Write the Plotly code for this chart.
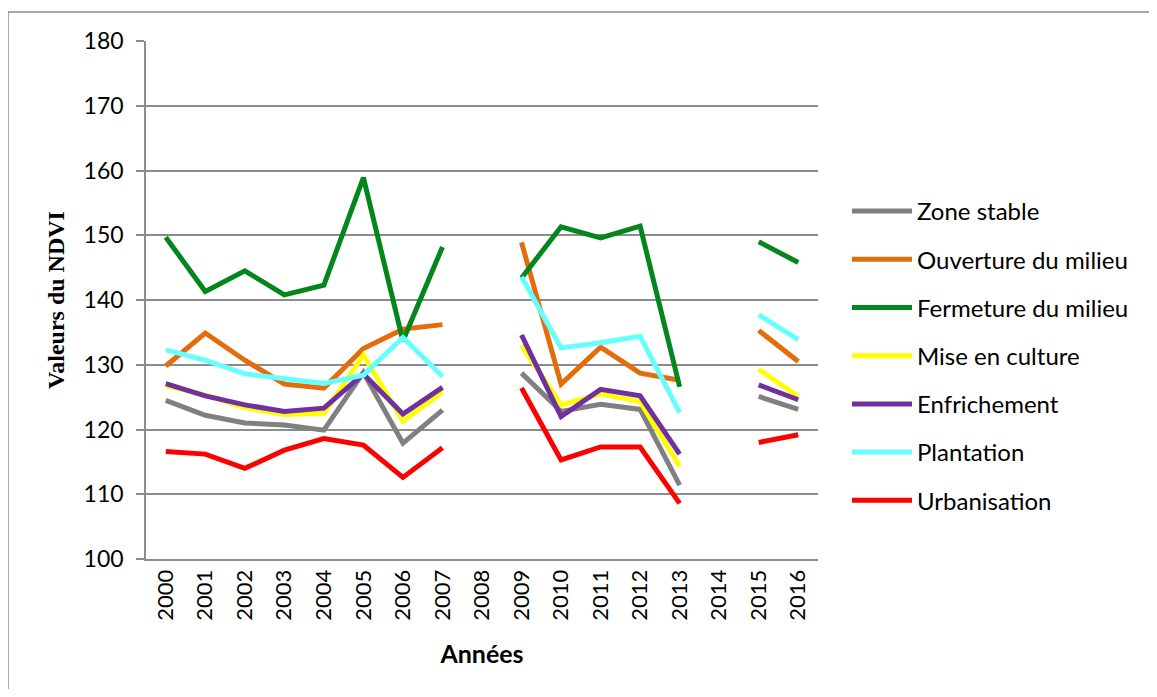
import plotly.graph_objects as go

years = ["2000", "2001", "2002", "2003", "2004", "2005", "2006", "2007", "2008",
         "2009", "2010", "2011", "2012", "2013", "2014", "2015", "2016"]

zone_stable = [124.5, 122.2, 121.0, 120.7, 119.9, 128.8, 117.9, 123.0, None,
               128.7, 122.8, 123.9, 123.1, 111.4, None, 125.1, 123.1]
ouverture = [129.8, 134.9, 130.7, 127.0, 126.4, 132.5, 135.5, 136.2, None,
             148.9, 127.0, 132.7, 128.7, 127.6, None, 135.3, 130.5]
fermeture = [149.7, 141.3, 144.5, 140.8, 142.3, 158.9, 133.7, 148.2, None,
             143.4, 151.3, 149.6, 151.4, 126.6, None, 149.0, 145.8]
mise_culture = [126.8, 125.3, 123.4, 122.3, 122.5, 131.5, 121.3, 125.8, None,
                133.0, 123.8, 125.5, 124.3, 114.3, None, 129.3, 125.1]
enfrichement = [127.1, 125.2, 123.8, 122.8, 123.3, 128.6, 122.4, 126.5, None,
                134.6, 122.0, 126.2, 125.2, 116.2, None, 126.9, 124.6]
plantation = [132.3, 130.7, 128.6, 127.8, 127.1, 128.4, 134.2, 128.2, None,
              143.6, 132.6, 133.4, 134.4, 122.6, None, 137.7, 133.9]
urbanisation = [116.6, 116.2, 114.0, 116.8, 118.6, 117.6, 112.6, 117.2, None,
                126.4, 115.3, 117.3, 117.3, 108.6, None, 118.0, 119.2]

series = [
    ("Zone stable", zone_stable, "#808080"),
    ("Ouverture du milieu", ouverture, "#E46C0A"),
    ("Fermeture du milieu", fermeture, "#03861B"),
    ("Mise en culture", mise_culture, "#FFFF00"),
    ("Enfrichement", enfrichement, "#7030A0"),
    ("Plantation", plantation, "#66FFFF"),
    ("Urbanisation", urbanisation, "#FF0000"),
]

fig = go.Figure()
for name, vals, col in series:
    fig.add_trace(go.Scatter(x=years, y=vals, name=name, mode="lines",
                             legendgroup=name,
                             line=dict(color=col, width=5),
                             connectgaps=False))

# page body has an 8px margin; figure is placed at (8, 8)
OFF = 8
W, H = 1157 - 2 * OFF, 697 - 2 * OFF
L, R, T, B = 146, 818, 41, 559   # plot area in screen pixels
pw, ph = R - L, B - T

def px(x):
    return (x - L) / pw

def py(y):
    return (B - y) / ph

grid = "#8C8C8C"
fig.update_layout(
    width=W, height=H,
    margin=dict(l=L - OFF, r=W + OFF - R, t=T - OFF, b=H + OFF - B),
    paper_bgcolor="white", plot_bgcolor="white",
    font=dict(family="Lato, Arial, sans-serif", size=22, color="black"),
    showlegend=True,
    legend=dict(x=px(847), y=py(189), xanchor="left", yanchor="top",
                font=dict(size=24), tracegroupgap=14, itemwidth=60,
                borderwidth=0, bgcolor="rgba(0,0,0,0)"),
    xaxis=dict(type="category", range=[-0.5, 16.5], tickangle=-90,
               showgrid=False, showline=True, linecolor=grid, linewidth=2,
               ticks="", tickfont=dict(size=22), automargin=False,
               title=dict(text="<b>Années</b>", font=dict(size=25), standoff=26)),
    yaxis=dict(range=[100, 180], dtick=10, showgrid=True, gridcolor=grid,
               gridwidth=2, showline=True, linecolor=grid, linewidth=1.5,
               ticks="outside", ticklen=8, tickcolor=grid, tickwidth=1.5,
               tickfont=dict(size=23), zeroline=False, ticklabelstandoff=8,
               automargin=False,
               title=dict(text="<b>Valeurs du NDVI</b>",
                          font=dict(family="Liberation Serif, Times New Roman, serif", size=24),
                          standoff=12)),
    shapes=[dict(type="rect", xref="paper", yref="paper",
                 x0=px(8), y0=py(12), x1=px(1157 + 20), y1=py(697 + 20),
                 line=dict(color=grid, width=1.5), fillcolor="rgba(0,0,0,0)",
                 layer="below")],
)

fig.write_html("out.html")
